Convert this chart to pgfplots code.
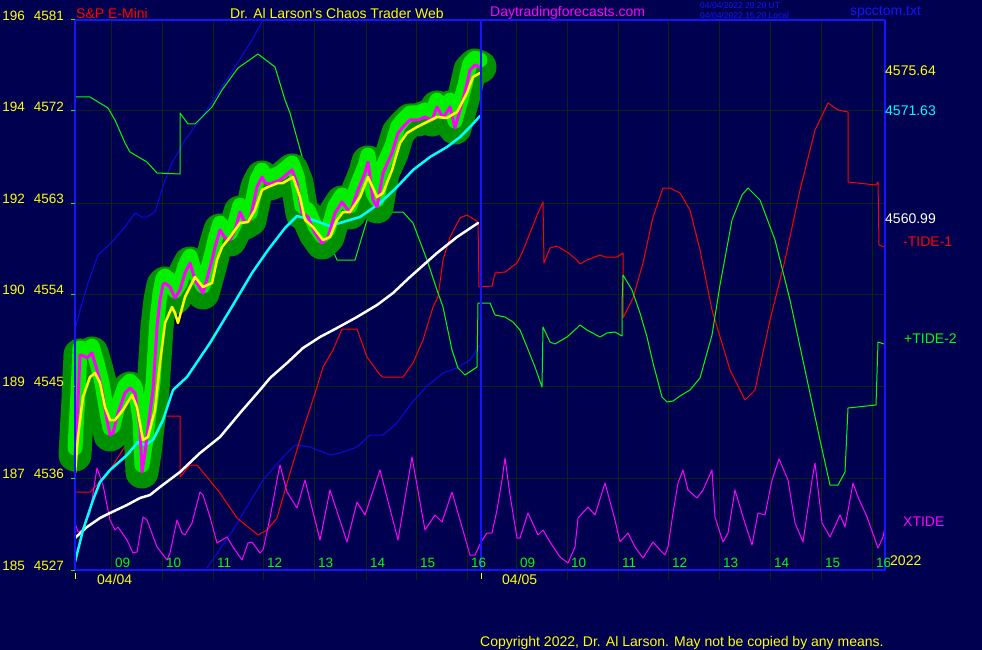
\documentclass[border=0pt]{standalone}
\usepackage{pgfplots}
\usepackage{pgfplotstable}
\usepackage{fontspec}
\setmainfont{Liberation Sans}
\pgfplotsset{compat=1.18}

\definecolor{bg}{RGB}{0,0,80}
\definecolor{gridc}{RGB}{12,40,12}
\definecolor{frame}{RGB}{20,20,255}
\definecolor{thinblue}{RGB}{10,10,225}
\definecolor{tgreen}{RGB}{0,255,0}
\definecolor{tred}{RGB}{255,0,0}
\definecolor{mag}{RGB}{255,0,255}
\definecolor{cyn}{RGB}{0,255,255}
\definecolor{yel}{RGB}{255,255,0}
\definecolor{blobdark}{RGB}{0,145,0}
\definecolor{blobbright}{RGB}{0,240,0}

% all series in chart pixel units (x right, y down)
\pgfplotstableread{
x y
75 455
78 400
80 355
84 356
87 358
92 353
97 370
102 390
107 420
110 435
113 433
118 413
125 393
130 388
135 393
140 427
142 472
145 453
148 427
153 390
157 327
160 300
163 285
165 283
170 287
175 298
180 290
185 273
190 263
195 280
203 293
208 275
212 260
215 247
220 230
225 238
230 240
235 230
240 212
245 223
250 220
257 187
262 177
265 183
270 184
280 180
292 170
297 183
302 213
308 217
315 233
322 243
328 237
335 213
342 202
350 213
358 190
365 173
368 162
373 200
377 207
383 173
392 153
398 133
403 127
410 120
418 120
425 117
432 120
437 107
443 118
450 107
455 128
460 110
465 92
470 70
475 65
480 67
}\pricetab

\pgfplotstableread{
x y
75 473
78 437
83 397
90 377
95 373
100 383
105 407
110 420
115 420
123 410
132 395
137 407
143 440
148 437
155 410
160 363
165 323
172 307
175 313
178 323
185 297
195 277
203 287
212 283
217 260
222 247
230 237
240 223
248 222
255 210
262 190
268 187
278 183
283 183
293 177
300 197
305 220
313 227
323 240
330 237
337 220
343 212
350 212
360 197
368 177
377 197
383 193
392 170
400 143
407 133
417 127
427 122
437 117
447 118
457 112
467 93
473 77
480 73
}\yeltab

\pgfplotstableread{
x y
75 562
83 530
93 500
100 482
110 470
127 455
138 442
145 445
153 440
163 420
173 390
187 377
210 343
233 305
252 273
268 250
285 228
297 216
313 220
330 226
343 222
360 217
380 203
397 187
413 170
430 157
447 147
460 137
470 127
480 116
}\cyantab

\pgfplotstableread{
x y
75 538
87 527
100 518
110 513
127 505
140 498
150 495
160 487
180 472
200 453
220 437
240 413
260 390
270 378
287 363
303 348
320 337
337 328
357 317
377 305
393 293
410 277
437 253
457 237
478 223
}\whitetab

\pgfplotstableread{
x y
75 330
80 310
83 300
88 283
98 255
112 242
125 227
135 213
142 217
147 217
155 212
165 180
172 163
185 140
202 117
218 93
235 67
252 40
263 20
}\bluetopa

\pgfplotstableread{
x y
207 568
233 530
263 480
270 472
283 457
295 445
310 447
330 455
343 452
357 447
370 435
383 435
397 423
410 405
427 386
443 373
457 368
470 360
480 345
}\bluebot

\pgfplotstableread{
x y
75 492
90 492
97 485
110 470
127 443
140 427
160 416
180 416
180 477
190 465
197 465
207 477
220 493
237 518
258 535
267 530
277 518
290 473
303 430
317 387
323 367
333 350
342 329
357 329
367 357
380 375
383 377
403 377
413 363
423 340
433 307
438 297
443 260
450 237
460 218
467 215
478 222
479 287
492 286
495 273
505 272
517 263
522 253
530 233
538 213
543 202
544 263
550 248
557 246
567 252
577 260
580 264
587 260
600 255
605 257
617 257
623 253
623 318
633 298
643 263
653 217
663 188
670 188
680 193
690 210
700 250
712 310
730 370
745 400
755 390
770 320
785 260
800 190
815 130
828 103
838 110
848 112
848 182
876 185
878 182
879 245
884 247
}\tideone

\pgfplotstableread{
x y
75 97
90 97
108 108
115 120
125 143
130 152
147 162
157 173
180 174
180 113
188 124
195 124
212 107
222 90
238 68
258 54
275 67
285 100
290 113
303 160
313 197
323 227
337 260
355 260
367 220
380 212
403 212
413 223
427 260
437 290
443 307
452 350
458 368
465 375
477 367
478 303
490 303
495 315
505 317
513 322
520 330
527 347
535 367
542 387
543 327
550 342
555 344
567 337
577 328
580 325
587 330
600 337
607 333
615 332
622 336
622 304
623 275
632 290
640 313
647 337
653 363
662 397
667 402
673 401
680 396
690 390
700 378
712 335
720 285
732 220
742 195
748 188
760 200
775 240
790 300
805 370
820 440
830 485
838 485
845 472
848 408
876 405
878 342
884 344
}\tidetwo

\pgfplotstableread{
x y
75 523
78 532
82 530
90 513
97 468
103 485
110 520
115 530
118 527
127 540
133 553
137 552
143 517
147 520
157 547
167 560
170 553
177 520
182 533
185 535
192 523
200 492
203 495
210 517
217 543
227 537
233 547
242 560
248 543
252 542
260 553
263 550
270 518
277 480
280 465
287 492
297 508
305 480
320 540
330 490
347 542
357 502
365 515
380 470
398 540
412 457
425 530
435 515
442 522
452 492
470 555
475 555
481 542
487 533
492 533
497 510
502 480
505 458
510 495
517 538
520 538
528 513
538 535
543 530
550 542
560 557
568 563
575 547
578 518
588 507
595 515
605 483
615 520
620 542
628 533
635 547
643 558
653 542
660 550
665 555
668 547
673 513
678 483
683 470
688 490
697 498
703 490
712 470
715 517
723 542
728 533
735 490
743 517
752 545
758 513
765 515
772 480
779 459
788 480
795 523
803 542
812 480
815 463
817 480
822 523
830 537
840 515
845 527
853 483
858 497
867 517
878 548
883 537
885 527
}\xtide

\newcommand{\hr}[2]{\node[font=\fontsize{13.5}{15}\selectfont, text=tgreen, anchor=west, inner sep=0pt] at (axis cs:#1,563) {#2};}
\newcommand{\lft}[3]{%
  \node[font=\fontsize{13.5}{15}\selectfont, text=yel, anchor=east, inner sep=0pt] at (axis cs:25,#1-4) {#2};
  \node[font=\fontsize{13.5}{15}\selectfont, text=yel, anchor=east, inner sep=0pt] at (axis cs:64,#1-4) {#3};
  \draw[tgreen, line width=1pt] (axis cs:71,#1) -- (axis cs:75,#1);}
\newcommand{\rgt}[4]{\node[font=\fontsize{14}{16}\selectfont, text=#4, anchor=west, inner sep=0pt] at (axis cs:#1,#2) {#3};}

\begin{document}
\begin{tikzpicture}
\useasboundingbox (0,0) rectangle (982pt,650pt);
\fill[bg] (0,0) rectangle (982pt,650pt);
\begin{axis}[
    at={(0pt,0pt)}, anchor=south west,
    scale only axis, width=982pt, height=650pt,
    xmin=0, xmax=982, ymin=0, ymax=650,
    y dir=reverse, hide axis, clip=false, no markers,
    every axis plot/.append style={line join=round, line cap=round}
]
% grid
\pgfplotsinvokeforeach{111,162,213,263,314,366,416,467,516,567,618,668,719,770,821,872}{
  \draw[gridc, line width=1pt] (axis cs:#1,20) -- (axis cs:#1,580);}
\pgfplotsinvokeforeach{111,203,294,386,478}{
  \draw[gridc, line width=1pt] (axis cs:75,#1) -- (axis cs:885,#1);}

% tides and bands
\addplot[thinblue, line width=1pt] table {\bluetopa};
\addplot[thinblue, line width=1pt] table {\bluebot};
\addplot[tred, line width=1pt] table {\tideone};
\addplot[tgreen, line width=1pt] table {\tidetwo};
\addplot[mag, line width=1pt] table {\xtide};
\addplot[white, line width=2.5pt] table {\whitetab};

% price blob
\addplot[blobdark, line width=33pt] table {\pricetab};
\addplot[blobbright, line width=15pt, yshift=7pt] table {\pricetab};
\addplot[cyn, line width=2.5pt] table {\cyantab};
\addplot[mag, line width=3pt] table {\pricetab};
\addplot[yel, line width=2.5pt] table {\yeltab};

% frame
\draw[frame, line width=1.5pt] (axis cs:75,20) -- (axis cs:885,20);
\draw[frame, line width=2.5pt] (axis cs:75,20) -- (axis cs:75,570) -- (axis cs:885,570) -- (axis cs:885,20);
\draw[frame, line width=1.5pt] (axis cs:481,20) -- (axis cs:481,570);
\draw[yel, line width=1pt] (axis cs:75,573) -- (axis cs:75,579);
\draw[yel, line width=1pt] (axis cs:481,573) -- (axis cs:481,579);

% left labels
\lft{20}{196}{4581}
\lft{111}{194}{4572}
\lft{203}{192}{4563}
\lft{294}{190}{4554}
\lft{386}{189}{4545}
\lft{478}{187}{4536}
\lft{570}{185}{4527}

% hour labels
\hr{115}{09}\hr{166}{10}\hr{217}{11}\hr{267}{12}\hr{318}{13}\hr{370}{14}\hr{420}{15}\hr{471}{16}
\hr{520}{09}\hr{571}{10}\hr{622}{11}\hr{672}{12}\hr{723}{13}\hr{774}{14}\hr{825}{15}\hr{876}{16}
\rgt{97}{579}{04/04}{yel}
\rgt{502}{579}{04/05}{yel}

% right labels
\rgt{885}{71}{4575.64}{yel}
\rgt{885}{111}{4571.63}{cyn}
\rgt{885}{219}{4560.99}{white}
\rgt{903}{242}{-TIDE-1}{tred}
\rgt{904}{339}{+TIDE-2}{tgreen}
\rgt{903}{522}{XTIDE}{mag}
\node[fill=bg, font=\fontsize{14}{16}\selectfont, text=yel, anchor=west, inner sep=0pt] at (axis cs:890,561) {2022};

% titles
\rgt{76}{13}{S\&P E-Mini}{tred}
\rgt{230}{13}{Dr. Al Larson's Chaos Trader Web}{yel}
\rgt{490}{13}{Daytradingforecasts.com}{mag}
\node[font=\fontsize{8.5}{10}\selectfont, text=frame, anchor=west, inner sep=0pt] at (axis cs:700,5) {04/04/2022 20:20 UT};
\node[font=\fontsize{8.5}{10}\selectfont, text=frame, anchor=west, inner sep=0pt] at (axis cs:700,15) {04/04/2022 15:20 Local};
\rgt{850}{12}{spcctom.txt}{frame}
\rgt{480}{643}{Copyright 2022, Dr. Al Larson. May not be copied by any means.}{yel}
\end{axis}
\end{tikzpicture}
\end{document}
